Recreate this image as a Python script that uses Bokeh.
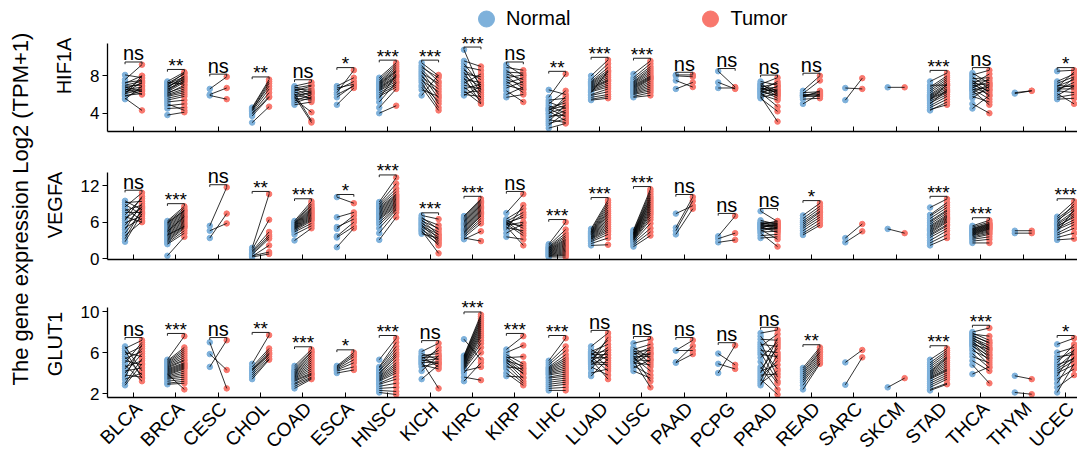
from math import pi
from bokeh.plotting import figure
from bokeh.models import (ColumnDataSource, Range1d, FixedTicker, Legend, LegendItem, Title,
                          LinearAxis)
from bokeh.transform import dodge
from bokeh.layouts import row, column
from bokeh.embed import file_html
from bokeh.resources import INLINE
from bokeh.core.properties import value

categories = ["BLCA", "BRCA", "CESC", "CHOL", "COAD", "ESCA", "HNSC", "KICH", "KIRC", "KIRP", "LIHC",
              "LUAD", "LUSC", "PAAD", "PCPG", "PRAD", "READ", "SARC", "SKCM", "STAD", "THCA", "THYM", "UCEC"]

# ---------------- HIF1A ----------------
HIF1A_normal = [
    [8.1, 7.6, 7.3, 7.2, 7.0, 6.9, 6.8, 6.7, 6.6, 6.5, 6.4, 6.3, 6.2, 6.1, 6.0, 5.9, 5.8, 5.6, 5.5],
    [7.4, 7.3, 7.2, 7.1, 7.0, 6.9, 6.8, 6.7, 6.6, 6.5, 6.4, 6.3, 6.2, 6.1, 6.0, 5.9, 5.8, 5.6, 5.4, 5.2, 5.0, 4.8, 4.5, 3.8],
    [6.6, 6.0, 5.9],
    [4.6, 4.5, 4.4, 4.3, 4.2, 4.0, 3.9, 3.7, 3.0],
    [6.9, 6.8, 6.7, 6.6, 6.5, 6.4, 6.3, 6.2, 6.1, 6.0, 5.9, 5.8, 5.7, 5.6, 5.5, 5.3, 5.1, 4.9],
    [6.9, 6.7, 6.5, 6.2, 6.0, 5.7, 4.9],
    [7.8, 7.6, 7.4, 7.3, 7.2, 7.1, 7.0, 6.9, 6.8, 6.7, 6.6, 6.5, 6.4, 6.2, 6.0, 5.8, 5.6, 5.2, 4.6, 4.0],
    [9.4, 9.1, 8.9, 8.7, 8.5, 8.3, 8.1, 7.9, 7.7, 7.5, 7.3, 7.0, 6.8, 6.5, 5.9],
    [10.8, 9.6, 9.3, 9.0, 8.8, 8.6, 8.4, 8.2, 8.0, 7.8, 7.6, 7.4, 7.2, 7.0, 6.8, 6.6, 6.4, 6.2, 6.0, 5.9],
    [9.2, 8.9, 8.6, 8.4, 8.2, 8.0, 7.8, 7.6, 7.4, 7.2, 7.0, 6.7, 6.4, 6.0, 5.7],
    [6.5, 5.7, 5.4, 5.2, 5.0, 4.8, 4.6, 4.5, 4.4, 4.3, 4.2, 4.0, 3.9, 3.7, 3.5, 3.3, 3.1, 2.9, 2.7, 2.4],
    [8.0, 7.6, 7.4, 7.3, 7.2, 7.1, 7.0, 6.9, 6.8, 6.7, 6.6, 6.5, 6.4, 6.3, 6.2, 6.0, 5.9, 5.7, 5.5, 5.4],
    [8.2, 7.8, 7.6, 7.4, 7.3, 7.2, 7.1, 7.0, 6.9, 6.8, 6.7, 6.6, 6.5, 6.4, 6.3, 6.2, 6.1, 6.0, 5.8, 5.7],
    [8.1, 8.0, 7.5, 6.6],
    [8.5, 7.3, 6.7],
    [7.4, 7.2, 7.1, 7.0, 6.9, 6.8, 6.7, 6.6, 6.5, 6.4, 6.3, 6.2, 6.1, 6.0, 5.9, 5.8, 5.7, 5.6, 6.6, 6.3],
    [6.4, 6.2, 6.1, 6.0, 5.9, 5.9, 5.8, 5.7, 5.5, 5.0],
    [6.7, 5.4],
    [6.77],
    [7.4, 7.0, 6.8, 6.6, 6.4, 6.2, 6.0, 5.9, 5.8, 5.7, 5.6, 5.5, 5.4, 5.3, 5.1, 5.0, 4.8, 4.6, 4.4, 4.3],
    [8.3, 8.1, 7.9, 7.7, 7.5, 7.4, 7.3, 7.2, 7.1, 7.0, 6.9, 6.8, 6.7, 6.6, 6.5, 6.4, 6.2, 6.0, 5.8, 5.6, 5.0, 4.5],
    [6.2, 6.1],
    [8.5, 7.4, 7.2, 7.0, 6.9, 6.8, 6.7, 6.6, 6.5, 6.4, 6.3, 6.1, 5.9, 5.7, 5.5],
]
HIF1A_tumor = [
    [7.8, 9.2, 7.5, 8.0, 7.4, 7.0, 6.3, 7.2, 6.0, 6.8, 7.7, 6.6, 7.3, 6.5, 8.0, 6.1, 6.4, 4.3, 6.9],
    [8.4, 7.1, 8.2, 7.9, 8.3, 7.6, 7.8, 8.0, 7.4, 7.7, 7.5, 7.3, 6.8, 7.0, 6.6, 6.4, 6.2, 6.0, 5.8, 5.4, 4.3, 5.0, 4.6, 4.1],
    [7.9, 6.7, 5.5],
    [7.6, 7.4, 6.9, 7.2, 6.6, 6.2, 5.8, 5.7, 4.7],
    [7.3, 6.2, 7.0, 5.8, 6.6, 6.9, 5.5, 6.4, 3.2, 6.1, 5.6, 3.0, 6.3, 5.4, 4.1, 6.0, 5.7, 5.2],
    [7.8, 7.1, 7.4, 8.6, 6.9, 7.0, 6.7],
    [9.4, 9.2, 9.0, 8.8, 8.6, 8.5, 8.4, 8.2, 8.0, 7.9, 7.8, 7.6, 7.4, 7.2, 7.0, 6.8, 8.1, 7.3, 6.6, 4.8],
    [8.0, 7.4, 7.8, 6.9, 6.0, 7.2, 5.6, 6.6, 5.0, 6.3, 4.6, 5.3, 4.3, 5.8, 8.1],
    [6.5, 9.0, 7.0, 8.6, 6.2, 7.6, 5.6, 7.9, 6.8, 5.1, 7.3, 6.0, 8.2, 6.6, 5.4, 7.1, 5.0, 6.4, 5.8, 6.9],
    [8.0, 8.6, 7.2, 8.3, 7.6, 6.6, 8.1, 7.0, 6.2, 7.8, 6.5, 7.4, 5.2, 6.8, 6.0],
    [6.0, 8.2, 5.6, 4.5, 6.4, 4.0, 5.1, 3.6, 4.8, 5.4, 3.2, 4.6, 5.8, 3.8, 4.3, 3.0, 4.9, 3.4, 4.1, 2.9],
    [9.7, 9.3, 8.9, 8.6, 8.4, 8.2, 8.0, 7.8, 7.6, 7.5, 7.4, 7.2, 7.0, 6.8, 8.5, 6.6, 6.3, 6.0, 5.8, 5.6],
    [9.6, 9.3, 9.0, 8.8, 8.6, 8.4, 8.2, 8.0, 7.9, 7.8, 7.7, 7.6, 7.4, 7.2, 7.0, 6.8, 6.6, 6.4, 6.2, 5.9],
    [8.1, 7.9, 6.8, 7.3],
    [6.8, 6.6, 6.7],
    [7.0, 6.0, 7.8, 6.4, 5.8, 7.2, 6.2, 6.8, 5.6, 7.4, 6.6, 4.7, 6.9, 5.4, 6.5, 3.1, 6.1, 4.2, 6.3, 5.9],
    [8.0, 6.3, 7.5, 5.9, 6.2, 6.0, 5.8, 6.4, 5.6, 6.1],
    [6.6, 7.75],
    [6.77],
    [8.3, 7.0, 8.0, 7.8, 7.6, 7.4, 7.2, 7.0, 6.8, 6.6, 6.4, 6.3, 7.1, 6.2, 6.0, 6.5, 5.8, 5.5, 4.9, 5.2],
    [7.2, 8.6, 6.6, 7.8, 6.2, 7.5, 5.8, 7.0, 8.2, 6.4, 7.3, 6.0, 7.7, 5.5, 6.8, 4.9, 7.1, 6.5, 5.2, 6.9, 4.0, 5.9],
    [6.4, 6.4],
    [8.6, 8.2, 7.9, 6.8, 7.6, 8.4, 7.0, 6.6, 7.3, 6.2, 7.8, 5.0, 6.9, 6.0, 5.6],
]
HIF1A_sig = ["ns", "**", "ns", "**", "ns", "*", "***", "***", "***", "ns", "**", "***", "***", "ns",
             "ns", "ns", "ns", "", "", "***", "ns", "", "*"]

# ---------------- VEGFA ----------------
VEGFA_normal = [
    [9.5, 9.2, 8.9, 8.5, 8.2, 7.9, 7.6, 7.2, 6.9, 6.6, 6.3, 5.9, 5.5, 5.1, 4.8, 4.2, 3.8, 3.3, 2.8],
    [6.2, 6.0, 5.8, 5.6, 5.4, 5.2, 5.0, 4.8, 4.6, 4.4, 4.2, 4.0, 3.8, 3.6, 3.4, 3.2, 3.0, 2.8, 2.6, 2.4, 5.9, 4.5, 3.9, 0.5],
    [5.4, 3.4, 4.6],
    [1.8, 1.5, 1.3, 1.1, 0.9, 0.7, 0.5, 0.4, 0.3],
    [6.2, 6.0, 5.9, 5.8, 5.7, 5.6, 5.5, 5.4, 5.3, 5.2, 5.1, 5.0, 4.9, 4.8, 4.6, 4.4, 4.0, 3.0],
    [10.1, 6.8, 5.2, 4.9, 3.7, 3.5, 1.9],
    [9.3, 9.0, 8.8, 8.6, 8.4, 8.2, 8.0, 7.8, 7.6, 7.4, 7.2, 7.0, 6.8, 6.6, 6.4, 6.0, 5.6, 5.0, 4.2, 3.1],
    [7.1, 6.8, 6.6, 6.4, 6.2, 6.0, 5.8, 5.6, 5.4, 5.2, 5.0, 4.8, 4.6, 4.4, 4.1],
    [7.0, 6.8, 6.6, 6.4, 6.2, 6.0, 5.8, 5.6, 5.4, 5.2, 5.0, 4.8, 4.6, 4.4, 4.2, 4.0, 3.8, 3.5, 3.2, 3.4],
    [7.5, 6.5, 6.3, 6.1, 6.0, 5.9, 5.8, 5.7, 5.6, 5.5, 5.3, 5.1, 4.8, 4.2, 3.6],
    [2.4, 2.2, 2.0, 1.9, 1.8, 1.7, 1.6, 1.5, 1.4, 1.3, 1.2, 1.1, 1.0, 0.9, 0.8, 0.7, 0.6, 0.5, 0.4, 0.3],
    [4.9, 4.7, 4.5, 4.4, 4.3, 4.2, 4.1, 4.0, 3.9, 3.8, 3.7, 3.6, 3.5, 3.4, 3.3, 3.2, 3.0, 2.8, 2.5, 2.2],
    [4.7, 4.5, 4.3, 4.2, 4.1, 4.0, 3.9, 3.8, 3.7, 3.6, 3.5, 3.4, 3.3, 3.2, 3.1, 3.0, 2.8, 2.6, 2.3, 2.0],
    [7.4, 5.1, 4.6, 4.0],
    [3.7, 3.3, 2.7],
    [7.8, 6.3, 6.0, 5.9, 5.8, 5.7, 5.6, 5.5, 5.4, 5.3, 5.2, 5.1, 5.0, 4.9, 4.8, 4.6, 4.4, 4.2, 3.8, 3.4],
    [7.1, 6.6, 6.2, 5.9, 5.6, 5.3, 5.0, 4.6, 4.2, 3.9],
    [3.4, 2.7],
    [4.9],
    [8.4, 7.2, 7.0, 6.6, 6.2, 6.0, 5.7, 5.4, 5.2, 5.0, 4.8, 4.6, 4.4, 4.2, 4.0, 3.8, 3.5, 3.0, 2.6, 2.2],
    [5.4, 5.2, 5.0, 4.9, 4.8, 4.7, 4.6, 4.5, 4.4, 4.3, 4.2, 4.1, 4.0, 3.9, 3.8, 3.6, 3.4, 3.2, 2.9, 2.6],
    [4.6, 4.2],
    [6.9, 6.6, 6.3, 6.0, 5.8, 5.6, 5.4, 5.2, 5.0, 4.8, 4.5, 4.2, 3.9, 3.5, 3.1],
]
VEGFA_tumor = [
    [8.0, 9.4, 7.2, 10.8, 6.3, 8.8, 7.6, 9.9, 6.0, 8.4, 10.2, 7.0, 8.6, 6.6, 9.1, 7.8, 6.1, 8.2, 7.4],
    [8.6, 8.3, 8.0, 7.8, 7.6, 7.4, 7.2, 7.0, 6.8, 6.6, 6.4, 6.2, 6.0, 5.8, 5.6, 5.4, 5.2, 5.0, 4.6, 4.2, 7.9, 6.9, 5.3, 3.6],
    [11.7, 7.4, 5.8],
    [10.6, 6.4, 4.4, 3.9, 3.6, 3.3, 1.1, 2.2, 0.8],
    [9.4, 9.0, 8.7, 8.4, 8.2, 8.0, 7.8, 7.6, 7.4, 7.2, 7.0, 6.8, 6.6, 6.4, 6.2, 5.8, 5.4, 5.0],
    [9.1, 7.6, 6.5, 7.1, 6.0, 5.3, 5.0],
    [13.3, 12.3, 11.5, 11.0, 10.6, 10.4, 10.2, 10.0, 9.8, 9.6, 9.4, 9.2, 9.0, 8.8, 8.6, 8.4, 8.2, 8.0, 7.6, 6.8],
    [6.5, 4.8, 5.5, 3.9, 5.0, 3.2, 4.4, 2.7, 4.0, 3.6, 2.2, 3.0, 0.9, 2.5, 3.4],
    [9.8, 9.6, 9.4, 9.2, 9.0, 8.8, 8.6, 8.4, 8.2, 8.0, 7.8, 7.6, 7.4, 7.2, 7.0, 6.6, 6.2, 5.8, 4.5, 2.9],
    [10.6, 8.2, 5.0, 7.6, 4.2, 6.8, 5.4, 3.8, 7.2, 6.0, 2.2, 4.6, 8.8, 5.8, 3.2],
    [6.0, 4.8, 4.2, 3.8, 3.5, 3.2, 3.0, 2.8, 2.6, 2.4, 2.2, 2.0, 1.8, 1.6, 1.4, 1.2, 1.0, 0.8, 0.6, 0.3],
    [9.6, 9.2, 8.8, 8.4, 8.0, 7.7, 7.4, 7.1, 6.8, 6.5, 6.2, 5.9, 5.6, 5.3, 5.0, 4.7, 4.4, 4.0, 3.4, 2.3],
    [11.4, 11.0, 10.6, 10.2, 9.9, 9.6, 9.3, 9.0, 8.7, 8.4, 8.1, 7.8, 7.5, 7.2, 6.8, 6.4, 5.8, 5.0, 4.4, 3.8],
    [8.7, 10.1, 9.5, 8.2],
    [7.0, 4.2, 3.1],
    [6.1, 5.6, 5.9, 5.3, 5.7, 5.1, 6.2, 4.9, 5.5, 4.3, 5.4, 5.8, 4.7, 5.0, 3.2, 5.2, 4.5, 2.0, 4.0, 3.6],
    [9.1, 8.6, 8.2, 7.8, 7.6, 7.2, 6.8, 6.4, 5.9, 5.5],
    [5.7, 4.5],
    [4.2],
    [9.8, 9.2, 8.8, 8.4, 8.0, 7.8, 7.5, 7.2, 7.0, 6.8, 6.6, 6.4, 6.2, 6.0, 5.6, 5.4, 5.0, 4.6, 4.0, 3.4],
    [6.3, 6.0, 5.8, 5.7, 5.6, 5.5, 5.4, 5.3, 5.2, 5.1, 5.0, 4.9, 4.8, 4.6, 4.4, 4.2, 4.0, 3.6, 3.2, 2.6],
    [4.6, 4.2],
    [9.4, 8.6, 8.2, 9.0, 7.8, 7.4, 6.8, 7.1, 6.4, 6.0, 8.0, 5.6, 5.0, 4.2, 3.3],
]
VEGFA_sig = ["ns", "***", "ns", "**", "***", "*", "***", "***", "***", "ns", "***", "***", "***", "ns",
             "ns", "ns", "*", "", "", "***", "***", "", "***"]

# ---------------- GLUT1 ----------------
GLUT1_normal = [
    [6.6, 6.4, 6.2, 6.0, 5.8, 5.6, 5.4, 5.2, 5.0, 4.8, 4.6, 4.4, 4.2, 4.0, 3.8, 3.6, 3.4, 3.0, 2.8],
    [5.3, 5.2, 5.1, 5.0, 4.9, 4.8, 4.7, 4.6, 4.5, 4.4, 4.3, 4.2, 4.1, 4.0, 3.9, 3.8, 3.7, 3.6, 3.5, 3.4, 3.2, 3.0, 2.9, 3.9],
    [7.0, 5.85, 4.6],
    [4.9, 4.6, 4.4, 4.3, 4.2, 4.0, 3.8, 3.6, 3.4],
    [4.7, 4.5, 4.3, 4.2, 4.1, 4.0, 3.9, 3.8, 3.7, 3.6, 3.5, 3.4, 3.3, 3.2, 3.0, 2.9, 2.7, 2.5],
    [4.7, 4.6, 4.5, 4.4, 4.3, 4.2, 4.0],
    [5.3, 4.6, 4.5, 4.3, 4.2, 4.0, 3.9, 3.8, 3.7, 3.6, 3.5, 3.4, 3.3, 3.2, 3.0, 2.9, 2.7, 2.5, 2.3, 2.1],
    [6.1, 5.9, 5.7, 5.6, 5.5, 5.4, 5.3, 5.2, 5.1, 5.0, 4.9, 4.8, 4.6, 4.2, 3.4],
    [7.3, 5.7, 5.6, 5.5, 5.4, 5.3, 5.2, 5.1, 5.0, 4.9, 4.8, 4.7, 4.6, 4.5, 4.4, 4.3, 4.2, 4.0, 3.6, 3.2],
    [6.3, 6.0, 5.8, 5.6, 5.5, 5.4, 5.3, 5.2, 5.1, 5.0, 4.8, 4.6, 4.4, 4.0, 3.7],
    [5.2, 5.0, 4.8, 4.6, 4.5, 4.4, 4.3, 4.2, 4.1, 4.0, 3.9, 3.8, 3.6, 3.5, 3.3, 3.1, 2.9, 2.7, 2.5, 2.3],
    [6.6, 6.3, 6.1, 6.0, 5.9, 5.8, 5.7, 5.6, 5.5, 5.4, 5.3, 5.2, 5.1, 5.0, 4.9, 4.8, 4.6, 4.4, 4.0, 3.7],
    [6.9, 6.5, 6.3, 6.2, 6.1, 6.0, 5.9, 5.8, 5.7, 5.6, 5.5, 5.4, 5.3, 5.2, 5.1, 5.0, 4.9, 4.7, 4.5, 4.2],
    [6.2, 6.2, 5.05, 5.0],
    [5.9, 4.9, 4.0],
    [7.9, 7.6, 7.3, 7.0, 6.8, 6.6, 6.4, 6.2, 6.0, 5.8, 5.5, 4.6, 4.4, 4.2, 4.0, 3.8, 3.6, 3.4, 3.2, 3.0, 2.8, 5.1],
    [4.5, 4.3, 4.1, 3.9, 3.7, 3.5, 3.3, 3.1, 2.8, 2.4],
    [5.04, 2.85],
    [2.6],
    [5.3, 5.0, 4.8, 4.6, 4.4, 4.2, 4.1, 4.0, 3.9, 3.8, 3.7, 3.6, 3.5, 3.4, 3.2, 3.0, 2.8, 2.6, 2.4, 2.3],
    [8.0, 7.9, 7.8, 7.7, 7.6, 7.5, 7.4, 7.3, 7.2, 7.1, 7.0, 6.9, 6.8, 6.7, 6.6, 6.4, 6.2, 5.9, 5.6, 5.2, 4.8, 3.9],
    [3.73, 2.1],
    [6.8, 6.0, 5.6, 5.3, 5.0, 4.8, 4.6, 4.4, 4.2, 4.0, 3.7, 3.4, 3.0, 2.6, 2.1],
]
GLUT1_tumor = [
    [4.2, 7.2, 3.5, 5.6, 6.6, 3.8, 6.1, 4.8, 7.0, 3.2, 5.2, 6.4, 4.5, 5.9, 3.6, 6.8, 4.0, 5.4, 4.9],
    [7.6, 6.5, 6.3, 6.1, 5.9, 5.7, 5.5, 5.3, 5.2, 5.0, 4.9, 4.8, 4.7, 4.6, 4.5, 4.4, 4.2, 4.0, 3.8, 3.6, 3.4, 3.2, 3.0, 2.4],
    [2.5, 4.3, 7.2],
    [7.7, 6.4, 6.2, 6.0, 5.9, 5.8, 5.6, 5.4, 5.3],
    [6.3, 6.1, 6.0, 5.8, 5.6, 5.4, 5.2, 5.0, 4.8, 4.6, 4.4, 4.2, 4.0, 3.9, 3.8, 3.6, 3.5, 3.4],
    [6.0, 5.8, 5.6, 5.3, 5.0, 4.6, 4.3],
    [7.4, 7.0, 6.6, 6.3, 6.0, 5.8, 5.6, 5.3, 5.0, 4.8, 4.6, 4.4, 4.2, 4.0, 3.7, 3.4, 3.0, 2.6, 2.2, 1.9],
    [6.9, 5.3, 5.9, 4.6, 5.6, 6.2, 4.9, 5.4, 2.5, 5.1, 6.5, 4.4, 5.0, 5.7, 4.8],
    [5.3, 9.7, 9.5, 9.3, 9.1, 8.9, 8.7, 8.5, 8.3, 8.1, 7.9, 7.7, 7.5, 7.2, 6.9, 6.5, 4.6, 6.0, 3.3, 5.0],
    [7.6, 6.7, 4.9, 4.5, 5.6, 4.2, 3.9, 4.7, 3.5, 4.0, 3.2, 4.4, 3.0, 2.8, 3.6],
    [7.4, 6.6, 6.2, 5.8, 5.5, 5.3, 5.1, 4.9, 4.7, 4.5, 4.3, 4.1, 3.9, 3.7, 3.5, 3.3, 3.1, 2.9, 2.6, 2.3],
    [7.9, 5.2, 6.8, 4.6, 6.2, 5.8, 7.2, 4.2, 5.5, 6.5, 3.4, 6.0, 5.0, 7.5, 4.8, 5.7, 3.8, 6.3, 4.4, 5.4],
    [7.3, 5.4, 6.8, 5.0, 6.2, 4.6, 5.8, 6.5, 3.2, 5.6, 4.2, 6.0, 5.2, 2.6, 6.4, 4.8, 5.9, 3.8, 5.3, 3.5],
    [7.2, 6.2, 6.65, 5.85],
    [4.8, 4.4, 6.7],
    [8.2, 5.4, 7.2, 3.6, 6.6, 7.8, 4.4, 6.0, 3.2, 5.6, 7.0, 2.4, 6.4, 4.8, 7.4, 3.9, 5.2, 1.9, 6.8, 4.2, 5.8, 3.0],
    [6.5, 6.3, 6.1, 6.0, 5.8, 5.6, 5.4, 5.2, 5.0, 4.9],
    [6.25, 5.53],
    [3.5],
    [6.4, 6.2, 6.0, 5.8, 5.6, 5.5, 5.4, 5.2, 5.0, 4.8, 4.6, 4.4, 4.3, 4.2, 4.0, 3.8, 3.6, 3.4, 3.0, 2.9],
    [8.4, 7.2, 7.6, 6.9, 7.0, 6.4, 6.7, 6.2, 6.5, 5.8, 6.0, 5.5, 6.3, 5.2, 5.7, 4.8, 5.4, 4.5, 5.0, 4.2, 3.0, 4.6],
    [3.4, 1.93],
    [7.4, 6.5, 5.8, 6.2, 6.8, 5.4, 6.0, 5.5, 5.2, 4.8, 6.3, 4.4, 5.6, 3.8, 4.9],
]
GLUT1_sig = ["ns", "***", "ns", "**", "***", "*", "***", "ns", "***", "***", "***", "ns", "ns", "ns",
             "ns", "ns", "**", "", "", "***", "***", "", "*"]

FONT = "Liberation Sans"
FONT_V = value(FONT)
BLUE = "#7EB1DB"
RED = "#F8776D"
X_START, X_END = -0.614, 22.445
OFF = 0.2
LABEL_SHIFT = 0.12   # rotated category labels sit slightly right of their ticks


def make_panel(gene, normal, tumor, sig, y_start, y_end, axis_top, ticks,
               frame_h, border_bottom, show_labels, legend=False):
    p = figure(frame_width=977, frame_height=frame_h, x_range=Range1d(X_START, X_END),
               y_range=Range1d(y_start, y_end), output_backend="svg",
               toolbar_location=None, title=None, min_border_left=60,
               min_border_right=0, min_border_top=0, min_border_bottom=border_bottom)
    p.outline_line_color = None
    p.grid.visible = False
    p.background_fill_color = "white"

    xs, nv, tv = [], [], []
    for i, (nl, tl) in enumerate(zip(normal, tumor)):
        for a, b in zip(nl, tl):
            xs.append(i)
            nv.append(a)
            tv.append(b)
    src = ColumnDataSource(dict(x=xs, normal=nv, tumor=tv))
    rn = p.scatter(x=dodge("x", -OFF), y="normal", source=src, size=5.5,
                   fill_color=BLUE, line_color=BLUE)
    rt = p.scatter(x=dodge("x", OFF), y="tumor", source=src, size=5.5,
                   fill_color=RED, line_color=RED)
    p.segment(x0=dodge("x", -OFF), y0="normal", x1=dodge("x", OFF), y1="tumor",
              source=src, line_color="black", line_alpha=0.85, line_width=0.95)

    span = axis_top - y_start
    bx, by, byl, lab = [], [], [], []
    for i, (nl, tl, s) in enumerate(zip(normal, tumor, sig)):
        if s:
            top = max(nl + tl) + 0.03 * span
            bx.append(i)
            by.append(top)
            byl.append(top - 0.025 * span)
            lab.append(s)
    bsrc = ColumnDataSource(dict(x=bx, y=by, yl=byl, label=lab))
    kw = dict(source=bsrc, line_color="#222222", line_width=1)
    p.segment(x0=dodge("x", -OFF), y0="y", x1=dodge("x", OFF), y1="y", **kw)
    p.segment(x0=dodge("x", -OFF), y0="y", x1=dodge("x", -OFF), y1="yl", **kw)
    p.segment(x0=dodge("x", OFF), y0="y", x1=dodge("x", OFF), y1="yl", **kw)

    ns_idx = [k for k, s in enumerate(lab) if s == "ns"]
    st_idx = [k for k, s in enumerate(lab) if s != "ns"]
    ns_src = ColumnDataSource(dict(x=[bx[k] for k in ns_idx], y=[by[k] for k in ns_idx],
                                   label=[lab[k] for k in ns_idx]))
    st_src = ColumnDataSource(dict(x=[bx[k] for k in st_idx], y=[by[k] for k in st_idx],
                                   label=[lab[k] for k in st_idx]))
    p.text(x="x", y="y", text="label", source=ns_src, text_font=FONT_V,
           text_font_size="20px", text_align="center", text_baseline="middle",
           y_offset=-8.5, text_color="black")
    p.text(x="x", y="y", text="label", source=st_src, text_font=FONT_V,
           text_font_size="19px", text_align="center", text_baseline="middle",
           y_offset=-4, text_color="black")

    # y axis
    yax = p.yaxis[0]
    yax.ticker = FixedTicker(ticks=ticks)
    yax.bounds = (y_start, axis_top)
    yax.axis_label = gene
    yax.axis_label_text_font = FONT
    yax.axis_label_text_font_size = "20px"
    yax.axis_label_text_font_style = "normal"
    yax.axis_label_text_color = "black"
    yax.axis_label_standoff = 12
    yax.major_label_text_font = FONT
    yax.major_label_text_font_size = "17px"
    yax.major_label_text_color = "black"
    yax.major_label_standoff = 3
    yax.major_tick_out = 5
    yax.major_tick_in = 0
    yax.minor_tick_line_color = None
    yax.axis_line_width = 1.3
    yax.axis_line_color = "black"
    yax.major_tick_line_color = "black"

    # x axis: ticks only (inside), no labels
    xax = p.xaxis[0]
    xax.axis_line_width = 1.3
    xax.axis_line_color = "black"
    xax.ticker = FixedTicker(ticks=[], minor_ticks=list(range(len(categories))))
    xax.minor_tick_in = 5
    xax.minor_tick_out = 0
    xax.minor_tick_line_color = "black"
    xax.minor_tick_line_width = 1

    if show_labels:
        p.extra_x_ranges = {"labels": Range1d(X_START - LABEL_SHIFT, X_END - LABEL_SHIFT)}
        lax = LinearAxis(x_range_name="labels",
                         ticker=FixedTicker(ticks=list(range(len(categories)))))
        lax.major_label_overrides = {i: c for i, c in enumerate(categories)}
        lax.major_label_orientation = pi / 4
        lax.major_label_text_font = FONT
        lax.major_label_text_font_size = "19px"
        lax.major_label_text_color = "black"
        lax.major_label_standoff = 8
        lax.axis_line_color = None
        lax.major_tick_line_color = None
        lax.minor_tick_line_color = None
        lax.major_tick_in = 0
        lax.major_tick_out = 0
        p.add_layout(lax, "below")

    if legend:
        leg = Legend(items=[LegendItem(label="Normal", renderers=[rn]),
                            LegendItem(label="Tumor", renderers=[rt])],
                     orientation="horizontal", location=(368, 90),
                     glyph_width=40, glyph_height=45, label_standoff=0,
                     spacing=120, padding=0, margin=0,
                     border_line_color=None, background_fill_alpha=0,
                     label_text_font=FONT, label_text_font_size="20px",
                     label_text_color="black", label_text_baseline="middle")
        p.add_layout(leg, "center")
    return p


p1 = make_panel("HIF1A", HIF1A_normal, HIF1A_tumor, HIF1A_sig, 2.04, 16.07, 11.5, [4, 8],
                131, 19, False, legend=True)
p2 = make_panel("VEGFA", VEGFA_normal, VEGFA_tumor, VEGFA_sig, -0.11, 17.73, 14.2, [0, 6, 12],
                109, 31, False)
p3 = make_panel("GLUT1", GLUT1_normal, GLUT1_tumor, GLUT1_sig, 1.61, 12.06, 10.42, [2, 6, 10],
                107, 58, True)

lab = figure(width=40, height=455, output_backend="svg", toolbar_location=None, title=None,
             x_axis_location=None, y_axis_location=None, min_border_left=32,
             min_border_right=0, min_border_top=0, min_border_bottom=38)
lab.outline_line_color = None
lab.grid.visible = False
lab.add_layout(Title(text="The gene expression Log2 (TPM+1)", align="center",
                     text_font=FONT, text_font_size="22px", text_font_style="normal",
                     text_color="black", standoff=0, offset=0), "left")

layout = row(lab, column(p1, p2, p3))
open("out.html", "w").write(file_html(layout, INLINE))
